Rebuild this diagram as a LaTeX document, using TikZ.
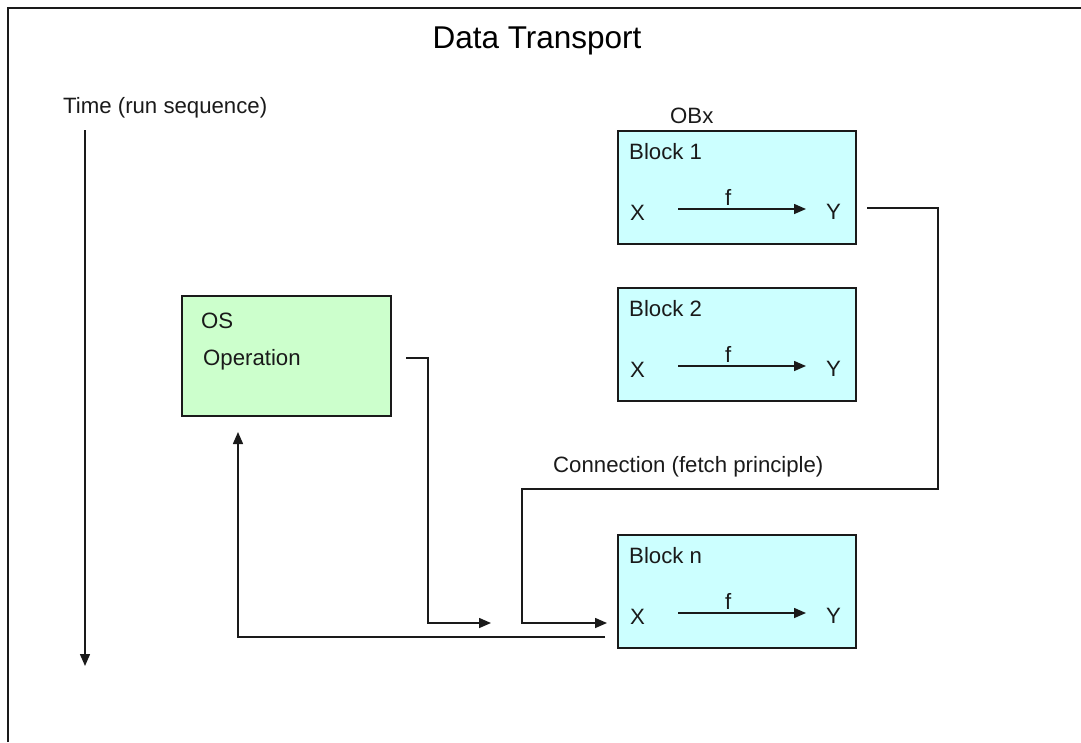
\documentclass[tikz,border=0pt]{standalone}
\usepackage{fontspec}
\setmainfont{Liberation Sans}
\usetikzlibrary{arrows.meta}
\definecolor{blockfill}{HTML}{CCFFFF}
\definecolor{osfill}{HTML}{CCFFCC}
\definecolor{edge}{HTML}{1A1A1A}
\tikzset{
  txt/.style={font=\fontsize{22.2}{25}\selectfont, inner sep=0pt, anchor=west, text=edge},
  titletxt/.style={font=\fontsize{31.5}{35}\selectfont, inner sep=0pt},
  blockbox/.style={draw=edge, line width=1.7pt, fill=blockfill, minimum width=238pt,
    minimum height=113pt, anchor=north west, inner sep=0pt},
  osbox/.style={draw=edge, line width=1.7pt, fill=osfill, minimum width=209pt,
    minimum height=120pt, anchor=north west, inner sep=0pt},
  conn/.style={draw=edge, line width=1.5pt},
  arr/.style={conn, -{Triangle[length=12pt,width=10pt]}},
}
\begin{document}
\begin{tikzpicture}[x=1pt, y=-1pt]
\useasboundingbox (0,0) rectangle (1081,742);
% frame
\draw[edge, line width=2pt] (8,742) -- (8,8) -- (1081,8);

% title and time axis
\node[titletxt] (title) at (537,41) {Data Transport};
\node[txt] (time) at (63,108) {Time (run sequence)};
\coordinate (t0) at (85,130);
\coordinate (t1) at (85,666);
\draw[arr] (t0) -- (t1);

% OB blocks
\node[txt] (obx) at (670,116) {OBx};
\foreach \name/\top/\label in {b1/130/Block 1, b2/287/Block 2, bn/534/Block n}{
  \node[blockbox] (\name) at (617,\top) {};
  \node[txt] (\name-t) at (629,\top+22) {\label};
  \node[txt] (\name-x) at (630,\top+83) {X};
  \node[txt] (\name-y) at (826,\top+82) {Y};
  \node[txt] (\name-f) at (725,\top+67) {f};
  \coordinate (\name-a) at (678,\top+79);
  \coordinate (\name-b) at (806,\top+79);
  \draw[arr] (\name-a) -- (\name-b);
}

% OS operation
\node[osbox] (os) at (181,295) {};
\node[txt] (os-t) at (201,321) {OS};
\node[txt] (os-op) at (203,360) {Operation};

% connections
\coordinate (fs) at (867,208);
\coordinate (fe) at (607,623);
\draw[arr] (fs) -| (938,489) -| (522,623) -- (fe);
\node[txt] (fetch) at (553,467) {Connection (fetch principle)};

\coordinate (os1) at (406,358);
\coordinate (oe) at (491,623);
\draw[arr] (os1) -| (428,623) -- (oe);

\coordinate (rs) at (605,637);
\coordinate (re) at (238,432);
\draw[arr] (rs) -| (re);
\end{tikzpicture}
\end{document}
